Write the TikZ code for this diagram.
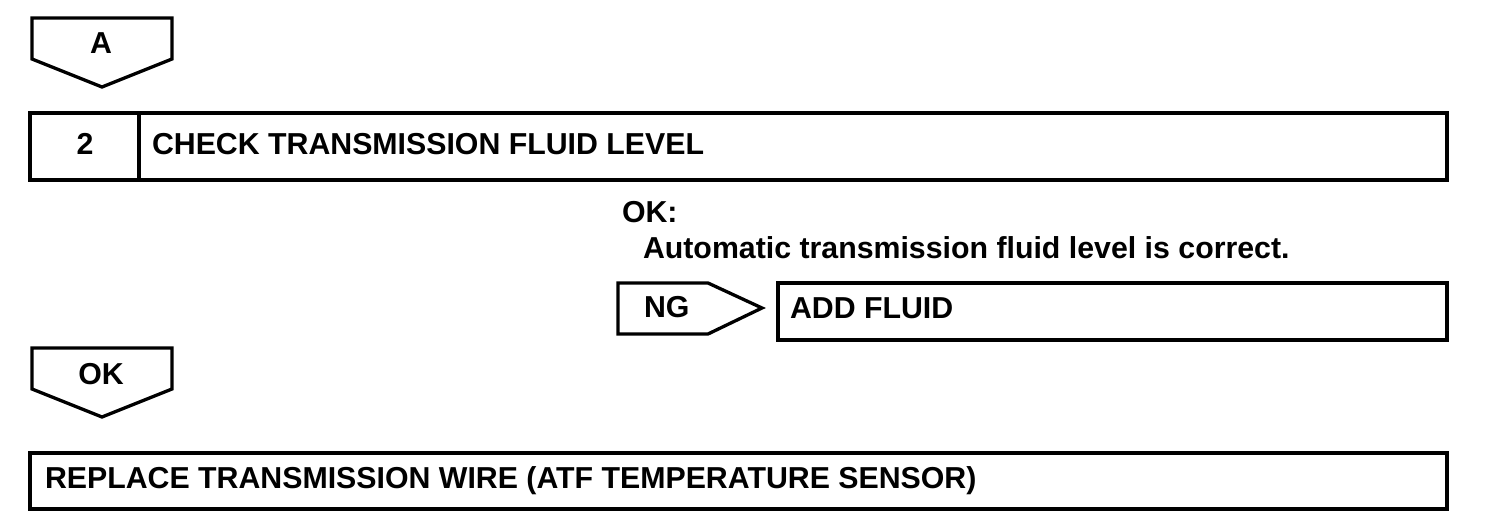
\documentclass[tikz,border=0pt]{standalone}
\usepackage{fontspec}
\setmainfont{Liberation Sans}
\begin{document}
\begin{tikzpicture}[x=1pt,y=-1pt,
  shp/.style={draw=black,line width=3.3pt,line join=miter},
  lbl/.style={inner sep=0pt,outer sep=0pt,font=\fontsize{30.3}{35}\selectfont\bfseries}]
\useasboundingbox (0,0) rectangle (1504,524);
% pentagon A
\draw[shp] (32,18) -- (172,18) -- (172,59) -- (102,87) -- (32,59) -- cycle;
\node[lbl,anchor=base] (la) at (101,54) {A};
% step 2 box
\draw[shp] (30,113) rectangle (1447,180);
\draw[shp] (139,113) -- (139,180);
\node[lbl,anchor=base] (num) at (85,154) {2};
\node[lbl,anchor=base west] (check) at (152,154) {CHECK TRANSMISSION FLUID LEVEL};
% OK text
\node[lbl,anchor=base west] (okc) at (622,222) {OK:};
\node[lbl,anchor=base west] (auto) at (643,258) {Automatic transmission fluid level is correct.};
% NG arrow and add fluid
\draw[shp] (618,283) -- (708,283) -- (762,308) -- (708,334) -- (618,334) -- cycle;
\node[lbl,anchor=base west] (ng) at (644,317) {NG};
\draw[shp] (778,283) rectangle (1447,340);
\node[lbl,anchor=base west] (add) at (790,318) {ADD FLUID};
% OK pentagon
\draw[shp] (32,348) -- (172,348) -- (172,389) -- (102,417) -- (32,389) -- cycle;
\node[lbl,anchor=base] (lok) at (101,384) {OK};
% replace box
\draw[shp] (30,453) rectangle (1447,509);
\node[lbl,anchor=base west] (rep) at (45,488) {REPLACE TRANSMISSION WIRE (ATF TEMPERATURE SENSOR)};
\end{tikzpicture}
\end{document}
